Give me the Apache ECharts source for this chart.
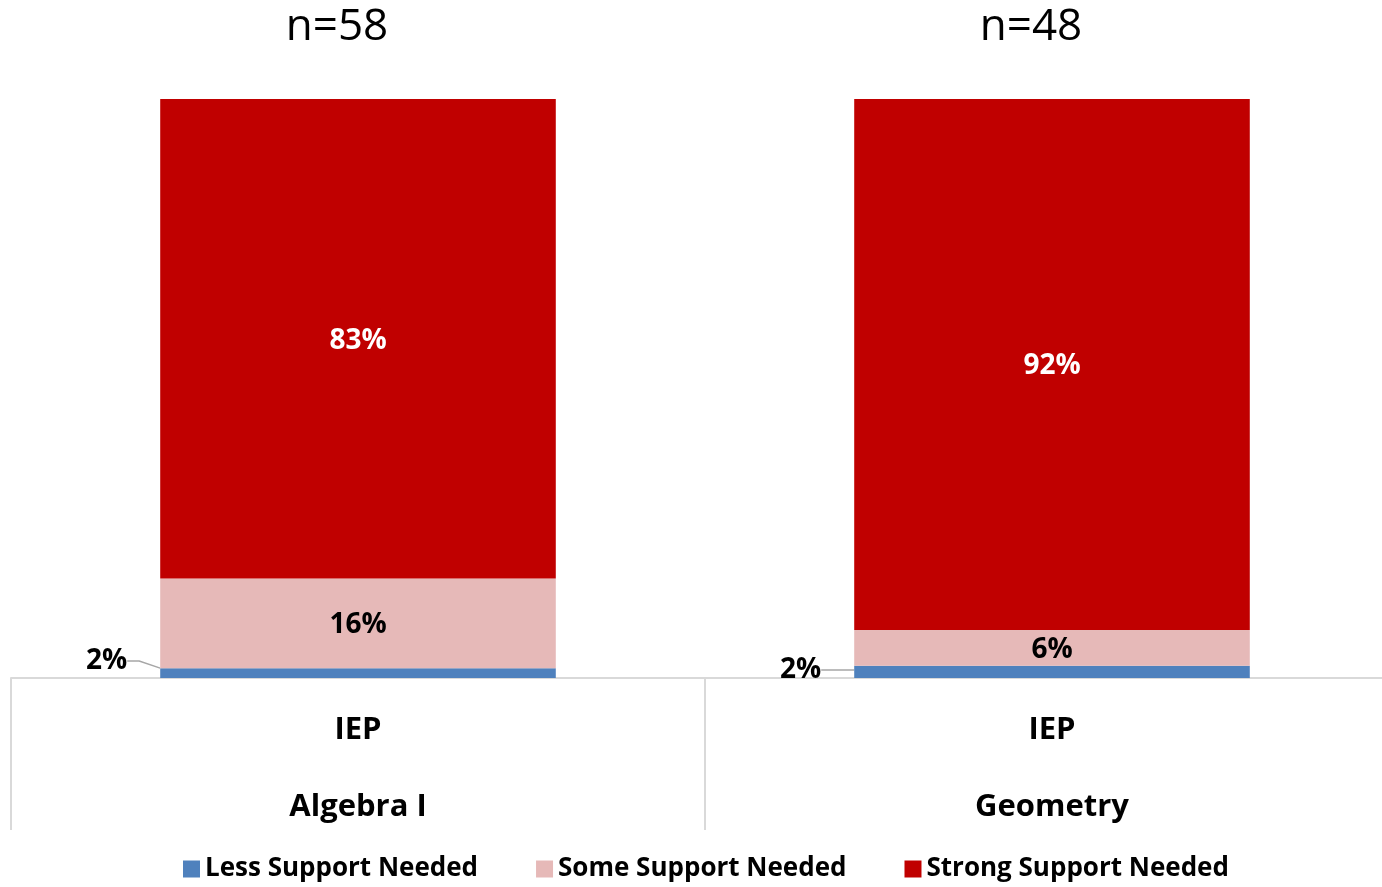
<!DOCTYPE html>
<html>
<head>
<meta charset="utf-8">
<title>Support Needed</title>
<script src="https://cdn.jsdelivr.net/npm/echarts@6/dist/echarts.min.js"></script>
<style>
    html,body{margin:0;padding:0;background:#fff;overflow:hidden;}
    #chart{width:1410px;height:887px;}
</style>
</head>
<body>
<div id="chart"></div>
<script>
'use strict';

// 数据
var categories = ['Algebra I', 'Geometry'];
var groupLabel = 'IEP';
var nLabels = ['n=58', 'n=48'];
var seriesNames = ['Less Support Needed', 'Some Support Needed', 'Strong Support Needed'];
var lessValues = [1.7, 2.1];
var someValues = [15.5, 6.2];
var strongValues = [82.8, 91.7];

var colors = ['#4f81bd', '#e6b9b8', '#c00000'];
var font = '"Open Sans", Lato, sans-serif';

var myChart = echarts.init(document.getElementById('chart'));

function pct(p){
    return Math.round(p.value) + '%';
}

// 小值标签移到柱子左侧，用引导线连接
var smallShift = [[-28, -12], [-28, -2]];

var echartOption = {
    animation: false,
    grid: {
        left: 11,
        right: 11,
        top: 99,
        bottom: 209
    },
    legend: {
        bottom: 0,
        left: 178,
        icon: 'rect',
        itemWidth: 17,
        itemHeight: 17,
        itemGap: 58,
        textStyle: {
            fontFamily: font,
            fontWeight: 'bold',
            fontSize: 26,
            color: '#000'
        },
        data: seriesNames
    },
    graphic: [],
    xAxis: [{
        type: 'category',
        data: categories,
        axisLine: {
            show: true,
            lineStyle: {color: '#d9d9d9', width: 2}
        },
        axisTick: {
            show: true,
            length: 152,
            lineStyle: {color: '#d9d9d9', width: 2}
        },
        axisLabel: {
            margin: 14,
            formatter: function(v){
                return '{a|' + groupLabel + '}\n{a|' + v + '}';
            },
            rich: {
                a: {
                    fontFamily: font,
                    fontWeight: 'bold',
                    fontSize: 31,
                    color: '#000',
                    lineHeight: 77
                }
            }
        },
        splitLine: {show: false}
    }],
    yAxis: [{
        type: 'value',
        min: 0,
        max: 100,
        show: false
    }],
    series: [
        {
            name: seriesNames[0],
            type: 'bar',
            stack: 'total',
            barWidth: '57%',
            data: lessValues,
            itemStyle: {color: colors[0]},
            label: {
                show: true,
                position: 'left',
                distance: 5,
                formatter: pct,
                fontFamily: font,
                fontWeight: 'bold',
                fontSize: 28,
                color: '#000'
            },
            labelLine: {
                show: true,
                length2: 12,
                lineStyle: {color: '#a6a6a6', width: 1.5}
            },
            labelLayout: function(p){
                var s = smallShift[p.dataIndex];
                return {dx: s[0], dy: s[1]};
            }
        },
        {
            name: seriesNames[1],
            type: 'bar',
            stack: 'total',
            data: someValues,
            itemStyle: {color: colors[1]},
            label: {
                show: true,
                position: 'inside',
                offset: [0, 2],
                formatter: pct,
                fontFamily: font,
                fontWeight: 'bold',
                fontSize: 28,
                color: '#000'
            }
        },
        {
            name: seriesNames[2],
            type: 'bar',
            stack: 'total',
            data: strongValues,
            itemStyle: {color: colors[2]},
            label: {
                show: true,
                position: 'inside',
                offset: [0, 2],
                formatter: pct,
                fontFamily: font,
                fontWeight: 'bold',
                fontSize: 28,
                color: '#fff'
            }
        }
    ]
};

myChart.setOption(echartOption);

// n= 标题放在每根柱子上方
for(var i = 0; i < nLabels.length; i++){
    var pt = myChart.convertToPixel({gridIndex: 0}, [i, 100]);
    echartOption.graphic.push({
        type: 'text',
        x: pt[0] - 21,
        y: 27,
        style: {
            text: nLabels[i],
            fontFamily: font,
            fontSize: 44,
            fill: '#000',
            textAlign: 'center',
            textVerticalAlign: 'middle'
        }
    });
}
myChart.setOption({graphic: echartOption.graphic});
</script>
</body>
</html>
